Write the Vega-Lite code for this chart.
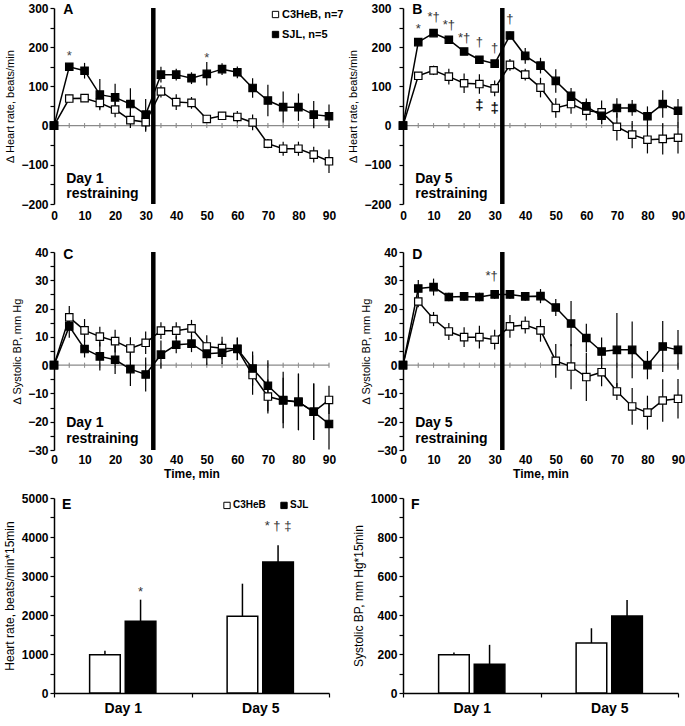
{
"$schema": "https://vega.github.io/schema/vega-lite/v6.json",
"background": "white",
"padding": {"left": 3, "top": 2, "right": 5, "bottom": 5},
"columns": 2,
"bounds": "flush",
"align": "each",
"spacing": {"row": 48, "column": 74},
"resolve": {"scale": {"fill": "independent"}, "legend": {"fill": "independent"}},
"datasets": {
"hr1": [
{"time":0,"group":"C3HeB","mean":0,"sem":0},{"time":5,"group":"C3HeB","mean":69,"sem":10},{"time":10,"group":"C3HeB","mean":70,"sem":8},{"time":15,"group":"C3HeB","mean":58,"sem":15},{"time":20,"group":"C3HeB","mean":41,"sem":20},{"time":25,"group":"C3HeB","mean":14,"sem":20},{"time":30,"group":"C3HeB","mean":9,"sem":25},{"time":35,"group":"C3HeB","mean":87,"sem":15},{"time":40,"group":"C3HeB","mean":60,"sem":20},{"time":45,"group":"C3HeB","mean":58,"sem":15},{"time":50,"group":"C3HeB","mean":17,"sem":10},{"time":55,"group":"C3HeB","mean":25,"sem":10},{"time":60,"group":"C3HeB","mean":22,"sem":15},{"time":65,"group":"C3HeB","mean":8,"sem":20},{"time":70,"group":"C3HeB","mean":-46,"sem":12},{"time":75,"group":"C3HeB","mean":-59,"sem":18},{"time":80,"group":"C3HeB","mean":-59,"sem":18},{"time":85,"group":"C3HeB","mean":-74,"sem":20},{"time":90,"group":"C3HeB","mean":-91,"sem":30},
{"time":0,"group":"SJL","mean":0,"sem":0},{"time":5,"group":"SJL","mean":150,"sem":10},{"time":10,"group":"SJL","mean":140,"sem":20},{"time":15,"group":"SJL","mean":79,"sem":40},{"time":20,"group":"SJL","mean":72,"sem":35},{"time":25,"group":"SJL","mean":55,"sem":40},{"time":30,"group":"SJL","mean":28,"sem":40},{"time":35,"group":"SJL","mean":130,"sem":20},{"time":40,"group":"SJL","mean":130,"sem":15},{"time":45,"group":"SJL","mean":121,"sem":15},{"time":50,"group":"SJL","mean":132,"sem":30},{"time":55,"group":"SJL","mean":144,"sem":15},{"time":60,"group":"SJL","mean":136,"sem":15},{"time":65,"group":"SJL","mean":96,"sem":25},{"time":70,"group":"SJL","mean":64,"sem":40},{"time":75,"group":"SJL","mean":47,"sem":40},{"time":80,"group":"SJL","mean":47,"sem":35},{"time":85,"group":"SJL","mean":28,"sem":35},{"time":90,"group":"SJL","mean":24,"sem":30}
],
"hr5": [
{"time":0,"group":"C3HeB","mean":0,"sem":0},{"time":5,"group":"C3HeB","mean":127,"sem":10},{"time":10,"group":"C3HeB","mean":141,"sem":12},{"time":15,"group":"C3HeB","mean":125,"sem":20},{"time":20,"group":"C3HeB","mean":108,"sem":25},{"time":25,"group":"C3HeB","mean":106,"sem":25},{"time":30,"group":"C3HeB","mean":95,"sem":20},{"time":35,"group":"C3HeB","mean":155,"sem":15},{"time":40,"group":"C3HeB","mean":130,"sem":15},{"time":45,"group":"C3HeB","mean":97,"sem":25},{"time":50,"group":"C3HeB","mean":45,"sem":25},{"time":55,"group":"C3HeB","mean":55,"sem":25},{"time":60,"group":"C3HeB","mean":38,"sem":25},{"time":65,"group":"C3HeB","mean":34,"sem":30},{"time":70,"group":"C3HeB","mean":-3,"sem":35},{"time":75,"group":"C3HeB","mean":-23,"sem":35},{"time":80,"group":"C3HeB","mean":-36,"sem":35},{"time":85,"group":"C3HeB","mean":-34,"sem":40},{"time":90,"group":"C3HeB","mean":-31,"sem":40},
{"time":0,"group":"SJL","mean":0,"sem":0},{"time":5,"group":"SJL","mean":213,"sem":8},{"time":10,"group":"SJL","mean":236,"sem":8},{"time":15,"group":"SJL","mean":219,"sem":8},{"time":20,"group":"SJL","mean":189,"sem":8},{"time":25,"group":"SJL","mean":168,"sem":8},{"time":30,"group":"SJL","mean":158,"sem":8},{"time":35,"group":"SJL","mean":230,"sem":10},{"time":40,"group":"SJL","mean":178,"sem":20},{"time":45,"group":"SJL","mean":153,"sem":20},{"time":50,"group":"SJL","mean":114,"sem":30},{"time":55,"group":"SJL","mean":76,"sem":20},{"time":60,"group":"SJL","mean":49,"sem":20},{"time":65,"group":"SJL","mean":25,"sem":20},{"time":70,"group":"SJL","mean":45,"sem":25},{"time":75,"group":"SJL","mean":45,"sem":20},{"time":80,"group":"SJL","mean":24,"sem":25},{"time":85,"group":"SJL","mean":55,"sem":35},{"time":90,"group":"SJL","mean":38,"sem":30}
],
"bp1": [
{"time":0,"group":"C3HeB","mean":0,"sem":0},{"time":5,"group":"C3HeB","mean":16.9,"sem":4},{"time":10,"group":"C3HeB","mean":12.3,"sem":4},{"time":15,"group":"C3HeB","mean":10.1,"sem":3.5},{"time":20,"group":"C3HeB","mean":8.5,"sem":4},{"time":25,"group":"C3HeB","mean":5.9,"sem":4},{"time":30,"group":"C3HeB","mean":7.9,"sem":4},{"time":35,"group":"C3HeB","mean":12.2,"sem":3},{"time":40,"group":"C3HeB","mean":12.2,"sem":3},{"time":45,"group":"C3HeB","mean":13,"sem":3},{"time":50,"group":"C3HeB","mean":6.6,"sem":4},{"time":55,"group":"C3HeB","mean":6,"sem":4},{"time":60,"group":"C3HeB","mean":5.7,"sem":4},{"time":65,"group":"C3HeB","mean":-3.5,"sem":7},{"time":70,"group":"C3HeB","mean":-11.1,"sem":6},{"time":75,"group":"C3HeB","mean":-12.5,"sem":8},{"time":80,"group":"C3HeB","mean":-13,"sem":10},{"time":85,"group":"C3HeB","mean":-16.5,"sem":10},{"time":90,"group":"C3HeB","mean":-12.3,"sem":5},
{"time":0,"group":"SJL","mean":0,"sem":0},{"time":5,"group":"SJL","mean":13.7,"sem":4},{"time":10,"group":"SJL","mean":5.7,"sem":3},{"time":15,"group":"SJL","mean":3.1,"sem":5},{"time":20,"group":"SJL","mean":1.9,"sem":5},{"time":25,"group":"SJL","mean":-1.4,"sem":6},{"time":30,"group":"SJL","mean":-3.3,"sem":6},{"time":35,"group":"SJL","mean":3.7,"sem":5},{"time":40,"group":"SJL","mean":7.2,"sem":3},{"time":45,"group":"SJL","mean":7.6,"sem":3},{"time":50,"group":"SJL","mean":4,"sem":4},{"time":55,"group":"SJL","mean":4.4,"sem":4},{"time":60,"group":"SJL","mean":5.8,"sem":4},{"time":65,"group":"SJL","mean":-1.2,"sem":6},{"time":70,"group":"SJL","mean":-7.3,"sem":9},{"time":75,"group":"SJL","mean":-12.3,"sem":10},{"time":80,"group":"SJL","mean":-13,"sem":10},{"time":85,"group":"SJL","mean":-16.5,"sem":10},{"time":90,"group":"SJL","mean":-20.8,"sem":9}
],
"bp5": [
{"time":0,"group":"C3HeB","mean":0,"sem":0},{"time":5,"group":"C3HeB","mean":22.5,"sem":2},{"time":10,"group":"C3HeB","mean":16.3,"sem":2.5},{"time":15,"group":"C3HeB","mean":11.9,"sem":3},{"time":20,"group":"C3HeB","mean":9.9,"sem":3.5},{"time":25,"group":"C3HeB","mean":9.9,"sem":4},{"time":30,"group":"C3HeB","mean":9,"sem":3.5},{"time":35,"group":"C3HeB","mean":13.7,"sem":4},{"time":40,"group":"C3HeB","mean":14.2,"sem":3},{"time":45,"group":"C3HeB","mean":12.3,"sem":4},{"time":50,"group":"C3HeB","mean":1.5,"sem":6},{"time":55,"group":"C3HeB","mean":-0.5,"sem":8},{"time":60,"group":"C3HeB","mean":-4.2,"sem":8.5},{"time":65,"group":"C3HeB","mean":-2.5,"sem":5},{"time":70,"group":"C3HeB","mean":-9.3,"sem":3},{"time":75,"group":"C3HeB","mean":-14.6,"sem":6.5},{"time":80,"group":"C3HeB","mean":-16.8,"sem":6},{"time":85,"group":"C3HeB","mean":-12.5,"sem":7.5},{"time":90,"group":"C3HeB","mean":-11.9,"sem":7},
{"time":0,"group":"SJL","mean":0,"sem":0},{"time":5,"group":"SJL","mean":27.1,"sem":3},{"time":10,"group":"SJL","mean":27.6,"sem":3},{"time":15,"group":"SJL","mean":24.1,"sem":1.5},{"time":20,"group":"SJL","mean":24.3,"sem":1.5},{"time":25,"group":"SJL","mean":24.1,"sem":1.5},{"time":30,"group":"SJL","mean":25,"sem":1.5},{"time":35,"group":"SJL","mean":25,"sem":1.5},{"time":40,"group":"SJL","mean":24.3,"sem":1.5},{"time":45,"group":"SJL","mean":24.4,"sem":2.5},{"time":50,"group":"SJL","mean":20.4,"sem":3},{"time":55,"group":"SJL","mean":14.7,"sem":8},{"time":60,"group":"SJL","mean":9.6,"sem":5},{"time":65,"group":"SJL","mean":4.8,"sem":5},{"time":70,"group":"SJL","mean":5.4,"sem":13},{"time":75,"group":"SJL","mean":5.4,"sem":10},{"time":80,"group":"SJL","mean":0,"sem":5},{"time":85,"group":"SJL","mean":6.6,"sem":9},{"time":90,"group":"SJL","mean":5.4,"sem":7}
],
"aucHR": [
{"day":"Day 1","group":"C3HeB","value":983,"upper":1085},{"day":"Day 1","group":"SJL","value":1838,"upper":2393},{"day":"Day 5","group":"C3HeB","value":1966,"upper":2803},{"day":"Day 5","group":"SJL","value":3359,"upper":3786}
],
"aucBP": [
{"day":"Day 1","group":"C3HeB","value":196,"upper":208},{"day":"Day 1","group":"SJL","value":148,"upper":247},{"day":"Day 5","group":"C3HeB","value":256,"upper":332},{"day":"Day 5","group":"SJL","value":395,"upper":477}
]
},
"concat": [
{
"width": 275, "height": 196,
"data": {"name": "hr1"},
"layer": [
{"mark": {"type": "rule", "color": "#8a8a8a", "strokeWidth": 1.2}, "data": {"values": [{}]},
 "encoding": {"y": {"datum": 0, "type": "quantitative", "scale": {"domain": [-200, 300], "nice": false, "zero": false}, "axis": {"values": [-200,-150,-100,-50,0,50,100,150,200,250,300], "labelExpr": "datum.value % 100 === 0 ? datum.label : ''", "labelOverlap": false, "domainWidth": 1.5, "tickSize": 4, "tickWidth": 1.2, "labelPadding": 2, "labelFontSize": 12, "labelFontWeight": "bold", "title": "∆ Heart rate, beats/min", "titleFontSize": 11, "titleFontWeight": "normal", "titlePadding": 5}}}},
{"mark": {"type": "tick", "orient": "vertical", "size": 5, "thickness": 1, "color": "#8a8a8a"},
 "encoding": {
  "x": {"field": "time", "type": "quantitative", "scale": {"domain": [0, 90], "nice": false}, "axis": {"values": [0,10,20,30,40,50,60,70,80,90], "domain": false, "ticks": false, "tickSize": 0, "labelPadding": 6, "labelFontSize": 12, "labelFontWeight": "bold", "labelFlush": false, "labelOverlap": false, "title": null}},
  "y": {"datum": 0, "type": "quantitative", "scale": {"domain": [-200, 300], "nice": false, "zero": false}, "axis": {"values": [-200,-150,-100,-50,0,50,100,150,200,250,300], "labelExpr": "datum.value % 100 === 0 ? datum.label : ''", "labelOverlap": false, "domainWidth": 1.5, "tickSize": 4, "tickWidth": 1.2, "labelPadding": 2, "labelFontSize": 12, "labelFontWeight": "bold", "title": "∆ Heart rate, beats/min", "titleFontSize": 11, "titleFontWeight": "normal", "titlePadding": 5}}}},
{"mark": {"type": "errorbar", "color": "black", "thickness": 1.2},
 "encoding": {
  "x": {"field": "time", "type": "quantitative", "scale": {"domain": [0, 90], "nice": false}, "axis": {"values": [0,10,20,30,40,50,60,70,80,90], "domain": false, "ticks": false, "tickSize": 0, "labelPadding": 6, "labelFontSize": 12, "labelFontWeight": "bold", "labelFlush": false, "labelOverlap": false, "title": null}},
  "y": {"field": "mean", "type": "quantitative", "scale": {"domain": [-200, 300], "nice": false, "zero": false}, "axis": {"values": [-200,-150,-100,-50,0,50,100,150,200,250,300], "labelExpr": "datum.value % 100 === 0 ? datum.label : ''", "labelOverlap": false, "domainWidth": 1.5, "tickSize": 4, "tickWidth": 1.2, "labelPadding": 2, "labelFontSize": 12, "labelFontWeight": "bold", "title": "∆ Heart rate, beats/min", "titleFontSize": 11, "titleFontWeight": "normal", "titlePadding": 5}},
  "yError": {"field": "sem"}}},
{"mark": {"type": "line", "color": "black", "strokeWidth": 1.5},
 "encoding": {
  "x": {"field": "time", "type": "quantitative", "scale": {"domain": [0, 90], "nice": false}, "axis": {"values": [0,10,20,30,40,50,60,70,80,90], "domain": false, "ticks": false, "tickSize": 0, "labelPadding": 6, "labelFontSize": 12, "labelFontWeight": "bold", "labelFlush": false, "labelOverlap": false, "title": null}},
  "y": {"field": "mean", "type": "quantitative", "scale": {"domain": [-200, 300], "nice": false, "zero": false}, "axis": {"values": [-200,-150,-100,-50,0,50,100,150,200,250,300], "labelExpr": "datum.value % 100 === 0 ? datum.label : ''", "labelOverlap": false, "domainWidth": 1.5, "tickSize": 4, "tickWidth": 1.2, "labelPadding": 2, "labelFontSize": 12, "labelFontWeight": "bold", "title": "∆ Heart rate, beats/min", "titleFontSize": 11, "titleFontWeight": "normal", "titlePadding": 5}},
  "detail": {"field": "group"}}},
{"mark": {"type": "point", "shape": "square", "size": 55, "filled": true, "stroke": "black", "strokeWidth": 1.2, "opacity": 1},
 "encoding": {
  "x": {"field": "time", "type": "quantitative", "scale": {"domain": [0, 90], "nice": false}, "axis": {"values": [0,10,20,30,40,50,60,70,80,90], "domain": false, "ticks": false, "tickSize": 0, "labelPadding": 6, "labelFontSize": 12, "labelFontWeight": "bold", "labelFlush": false, "labelOverlap": false, "title": null}},
  "y": {"field": "mean", "type": "quantitative", "scale": {"domain": [-200, 300], "nice": false, "zero": false}, "axis": {"values": [-200,-150,-100,-50,0,50,100,150,200,250,300], "labelExpr": "datum.value % 100 === 0 ? datum.label : ''", "labelOverlap": false, "domainWidth": 1.5, "tickSize": 4, "tickWidth": 1.2, "labelPadding": 2, "labelFontSize": 12, "labelFontWeight": "bold", "title": "∆ Heart rate, beats/min", "titleFontSize": 11, "titleFontWeight": "normal", "titlePadding": 5}},
  "fill": {"field": "group", "type": "nominal", "scale": {"domain": ["C3HeB", "SJL"], "range": ["white", "black"]},
   "legend": {"orient": "none", "legendX": 216, "legendY": 1, "title": null, "symbolType": "square", "symbolSize": 40, "symbolStrokeColor": "black", "symbolStrokeWidth": 1, "labelFontSize": 11, "labelFontWeight": "bold", "labelOffset": 1, "rowPadding": 8, "labelExpr": "datum.label === 'C3HeB' ? 'C3HeB, n=7' : 'SJL, n=5'"}}}},
{"mark": {"type": "rule", "color": "black", "strokeWidth": 4.5}, "data": {"values": [{}]},
 "encoding": {"x": {"datum": 32.5, "type": "quantitative", "scale": {"domain": [0, 90], "nice": false}, "axis": {"values": [0,10,20,30,40,50,60,70,80,90], "domain": false, "ticks": false, "tickSize": 0, "labelPadding": 6, "labelFontSize": 12, "labelFontWeight": "bold", "labelFlush": false, "labelOverlap": false, "title": null}}}},
{"mark": {"type": "text", "fontSize": 13, "color": "#444", "baseline": "middle", "align": "center"},
 "data": {"values": [{"time": 5, "mean": 177, "label": "*"}, {"time": 50, "mean": 173, "label": "*"}]},
 "encoding": {
  "x": {"field": "time", "type": "quantitative", "scale": {"domain": [0, 90], "nice": false}, "axis": {"values": [0,10,20,30,40,50,60,70,80,90], "domain": false, "ticks": false, "tickSize": 0, "labelPadding": 6, "labelFontSize": 12, "labelFontWeight": "bold", "labelFlush": false, "labelOverlap": false, "title": null}},
  "y": {"field": "mean", "type": "quantitative", "scale": {"domain": [-200, 300], "nice": false, "zero": false}, "axis": {"values": [-200,-150,-100,-50,0,50,100,150,200,250,300], "labelExpr": "datum.value % 100 === 0 ? datum.label : ''", "labelOverlap": false, "domainWidth": 1.5, "tickSize": 4, "tickWidth": 1.2, "labelPadding": 2, "labelFontSize": 12, "labelFontWeight": "bold", "title": "∆ Heart rate, beats/min", "titleFontSize": 11, "titleFontWeight": "normal", "titlePadding": 5}},
  "text": {"field": "label"}}},
{"mark": {"type": "text", "fontSize": 14, "fontWeight": "bold", "align": "left", "baseline": "alphabetic", "lineHeight": 15},
 "data": {"values": [{"time": 3, "mean": 285, "label": "A"}, {"time": 4, "mean": -146, "label": ["Day 1", "restraining"]}]},
 "encoding": {
  "x": {"field": "time", "type": "quantitative", "scale": {"domain": [0, 90], "nice": false}, "axis": {"values": [0,10,20,30,40,50,60,70,80,90], "domain": false, "ticks": false, "tickSize": 0, "labelPadding": 6, "labelFontSize": 12, "labelFontWeight": "bold", "labelFlush": false, "labelOverlap": false, "title": null}},
  "y": {"field": "mean", "type": "quantitative", "scale": {"domain": [-200, 300], "nice": false, "zero": false}, "axis": {"values": [-200,-150,-100,-50,0,50,100,150,200,250,300], "labelExpr": "datum.value % 100 === 0 ? datum.label : ''", "labelOverlap": false, "domainWidth": 1.5, "tickSize": 4, "tickWidth": 1.2, "labelPadding": 2, "labelFontSize": 12, "labelFontWeight": "bold", "title": "∆ Heart rate, beats/min", "titleFontSize": 11, "titleFontWeight": "normal", "titlePadding": 5}},
  "text": {"field": "label"}}}
]
},
{
"width": 275, "height": 196,
"data": {"name": "hr5"},
"layer": [
{"mark": {"type": "rule", "color": "#8a8a8a", "strokeWidth": 1.2}, "data": {"values": [{}]},
 "encoding": {"y": {"datum": 0, "type": "quantitative", "scale": {"domain": [-200, 300], "nice": false, "zero": false}, "axis": {"values": [-200,-150,-100,-50,0,50,100,150,200,250,300], "labelExpr": "datum.value % 100 === 0 ? datum.label : ''", "labelOverlap": false, "domainWidth": 1.5, "tickSize": 4, "tickWidth": 1.2, "labelPadding": 8, "labelFontSize": 12, "labelFontWeight": "bold", "title": "∆ Heart rate, beats/min", "titleFontSize": 11, "titleFontWeight": "normal", "titlePadding": 5}}}},
{"mark": {"type": "tick", "orient": "vertical", "size": 5, "thickness": 1, "color": "#8a8a8a"},
 "encoding": {
  "x": {"field": "time", "type": "quantitative", "scale": {"domain": [0, 90], "nice": false}, "axis": {"values": [0,10,20,30,40,50,60,70,80,90], "domain": false, "ticks": false, "tickSize": 0, "labelPadding": 6, "labelFontSize": 12, "labelFontWeight": "bold", "labelFlush": false, "labelOverlap": false, "title": null}},
  "y": {"datum": 0, "type": "quantitative", "scale": {"domain": [-200, 300], "nice": false, "zero": false}, "axis": {"values": [-200,-150,-100,-50,0,50,100,150,200,250,300], "labelExpr": "datum.value % 100 === 0 ? datum.label : ''", "labelOverlap": false, "domainWidth": 1.5, "tickSize": 4, "tickWidth": 1.2, "labelPadding": 8, "labelFontSize": 12, "labelFontWeight": "bold", "title": "∆ Heart rate, beats/min", "titleFontSize": 11, "titleFontWeight": "normal", "titlePadding": 5}}}},
{"mark": {"type": "errorbar", "color": "black", "thickness": 1.2},
 "encoding": {
  "x": {"field": "time", "type": "quantitative", "scale": {"domain": [0, 90], "nice": false}, "axis": {"values": [0,10,20,30,40,50,60,70,80,90], "domain": false, "ticks": false, "tickSize": 0, "labelPadding": 6, "labelFontSize": 12, "labelFontWeight": "bold", "labelFlush": false, "labelOverlap": false, "title": null}},
  "y": {"field": "mean", "type": "quantitative", "scale": {"domain": [-200, 300], "nice": false, "zero": false}, "axis": {"values": [-200,-150,-100,-50,0,50,100,150,200,250,300], "labelExpr": "datum.value % 100 === 0 ? datum.label : ''", "labelOverlap": false, "domainWidth": 1.5, "tickSize": 4, "tickWidth": 1.2, "labelPadding": 8, "labelFontSize": 12, "labelFontWeight": "bold", "title": "∆ Heart rate, beats/min", "titleFontSize": 11, "titleFontWeight": "normal", "titlePadding": 5}},
  "yError": {"field": "sem"}}},
{"mark": {"type": "line", "color": "black", "strokeWidth": 1.5},
 "encoding": {
  "x": {"field": "time", "type": "quantitative", "scale": {"domain": [0, 90], "nice": false}, "axis": {"values": [0,10,20,30,40,50,60,70,80,90], "domain": false, "ticks": false, "tickSize": 0, "labelPadding": 6, "labelFontSize": 12, "labelFontWeight": "bold", "labelFlush": false, "labelOverlap": false, "title": null}},
  "y": {"field": "mean", "type": "quantitative", "scale": {"domain": [-200, 300], "nice": false, "zero": false}, "axis": {"values": [-200,-150,-100,-50,0,50,100,150,200,250,300], "labelExpr": "datum.value % 100 === 0 ? datum.label : ''", "labelOverlap": false, "domainWidth": 1.5, "tickSize": 4, "tickWidth": 1.2, "labelPadding": 8, "labelFontSize": 12, "labelFontWeight": "bold", "title": "∆ Heart rate, beats/min", "titleFontSize": 11, "titleFontWeight": "normal", "titlePadding": 5}},
  "detail": {"field": "group"}}},
{"mark": {"type": "point", "shape": "square", "size": 55, "filled": true, "stroke": "black", "strokeWidth": 1.2, "opacity": 1},
 "encoding": {
  "x": {"field": "time", "type": "quantitative", "scale": {"domain": [0, 90], "nice": false}, "axis": {"values": [0,10,20,30,40,50,60,70,80,90], "domain": false, "ticks": false, "tickSize": 0, "labelPadding": 6, "labelFontSize": 12, "labelFontWeight": "bold", "labelFlush": false, "labelOverlap": false, "title": null}},
  "y": {"field": "mean", "type": "quantitative", "scale": {"domain": [-200, 300], "nice": false, "zero": false}, "axis": {"values": [-200,-150,-100,-50,0,50,100,150,200,250,300], "labelExpr": "datum.value % 100 === 0 ? datum.label : ''", "labelOverlap": false, "domainWidth": 1.5, "tickSize": 4, "tickWidth": 1.2, "labelPadding": 8, "labelFontSize": 12, "labelFontWeight": "bold", "title": "∆ Heart rate, beats/min", "titleFontSize": 11, "titleFontWeight": "normal", "titlePadding": 5}},
  "fill": {"field": "group", "type": "nominal", "scale": {"domain": ["C3HeB", "SJL"], "range": ["white", "black"]}, "legend": null}}},
{"mark": {"type": "rule", "color": "black", "strokeWidth": 4.5}, "data": {"values": [{}]},
 "encoding": {"x": {"datum": 32.5, "type": "quantitative", "scale": {"domain": [0, 90], "nice": false}, "axis": {"values": [0,10,20,30,40,50,60,70,80,90], "domain": false, "ticks": false, "tickSize": 0, "labelPadding": 6, "labelFontSize": 12, "labelFontWeight": "bold", "labelFlush": false, "labelOverlap": false, "title": null}}}},
{"mark": {"type": "text", "fontSize": 13, "color": "#333", "baseline": "middle", "align": "center"},
 "data": {"values": [{"time": 5, "mean": 246, "label": "*"}, {"time": 10, "mean": 278, "label": "*†"}, {"time": 15, "mean": 257, "label": "*†"}, {"time": 20, "mean": 223, "label": "*†"}, {"time": 25, "mean": 212, "label": "†"}, {"time": 30, "mean": 197, "label": "†"}, {"time": 35, "mean": 272, "label": "†"}]},
 "encoding": {
  "x": {"field": "time", "type": "quantitative", "scale": {"domain": [0, 90], "nice": false}, "axis": {"values": [0,10,20,30,40,50,60,70,80,90], "domain": false, "ticks": false, "tickSize": 0, "labelPadding": 6, "labelFontSize": 12, "labelFontWeight": "bold", "labelFlush": false, "labelOverlap": false, "title": null}},
  "y": {"field": "mean", "type": "quantitative", "scale": {"domain": [-200, 300], "nice": false, "zero": false}, "axis": {"values": [-200,-150,-100,-50,0,50,100,150,200,250,300], "labelExpr": "datum.value % 100 === 0 ? datum.label : ''", "labelOverlap": false, "domainWidth": 1.5, "tickSize": 4, "tickWidth": 1.2, "labelPadding": 8, "labelFontSize": 12, "labelFontWeight": "bold", "title": "∆ Heart rate, beats/min", "titleFontSize": 11, "titleFontWeight": "normal", "titlePadding": 5}},
  "text": {"field": "label"}}},
{"mark": {"type": "text", "fontSize": 15, "fontWeight": "bold", "color": "#111", "baseline": "middle", "align": "center"},
 "data": {"values": [{"time": 25, "mean": 53, "label": "‡"}, {"time": 30, "mean": 45, "label": "‡"}]},
 "encoding": {
  "x": {"field": "time", "type": "quantitative", "scale": {"domain": [0, 90], "nice": false}, "axis": {"values": [0,10,20,30,40,50,60,70,80,90], "domain": false, "ticks": false, "tickSize": 0, "labelPadding": 6, "labelFontSize": 12, "labelFontWeight": "bold", "labelFlush": false, "labelOverlap": false, "title": null}},
  "y": {"field": "mean", "type": "quantitative", "scale": {"domain": [-200, 300], "nice": false, "zero": false}, "axis": {"values": [-200,-150,-100,-50,0,50,100,150,200,250,300], "labelExpr": "datum.value % 100 === 0 ? datum.label : ''", "labelOverlap": false, "domainWidth": 1.5, "tickSize": 4, "tickWidth": 1.2, "labelPadding": 8, "labelFontSize": 12, "labelFontWeight": "bold", "title": "∆ Heart rate, beats/min", "titleFontSize": 11, "titleFontWeight": "normal", "titlePadding": 5}},
  "text": {"field": "label"}}},
{"mark": {"type": "text", "fontSize": 14, "fontWeight": "bold", "align": "left", "baseline": "alphabetic", "lineHeight": 15},
 "data": {"values": [{"time": 3, "mean": 285, "label": "B"}, {"time": 4, "mean": -146, "label": ["Day 5", "restraining"]}]},
 "encoding": {
  "x": {"field": "time", "type": "quantitative", "scale": {"domain": [0, 90], "nice": false}, "axis": {"values": [0,10,20,30,40,50,60,70,80,90], "domain": false, "ticks": false, "tickSize": 0, "labelPadding": 6, "labelFontSize": 12, "labelFontWeight": "bold", "labelFlush": false, "labelOverlap": false, "title": null}},
  "y": {"field": "mean", "type": "quantitative", "scale": {"domain": [-200, 300], "nice": false, "zero": false}, "axis": {"values": [-200,-150,-100,-50,0,50,100,150,200,250,300], "labelExpr": "datum.value % 100 === 0 ? datum.label : ''", "labelOverlap": false, "domainWidth": 1.5, "tickSize": 4, "tickWidth": 1.2, "labelPadding": 8, "labelFontSize": 12, "labelFontWeight": "bold", "title": "∆ Heart rate, beats/min", "titleFontSize": 11, "titleFontWeight": "normal", "titlePadding": 5}},
  "text": {"field": "label"}}}
]
},
{
"width": 275, "height": 198,
"data": {"name": "bp1"},
"layer": [
{"mark": {"type": "rule", "color": "#8a8a8a", "strokeWidth": 1.2}, "data": {"values": [{}]},
 "encoding": {"y": {"datum": 0, "type": "quantitative", "scale": {"domain": [-30, 40], "nice": false, "zero": false}, "axis": {"values": [-30,-25,-20,-15,-10,-5,0,5,10,15,20,25,30,35,40], "labelExpr": "datum.value % 10 === 0 ? datum.label : ''", "labelOverlap": false, "domainWidth": 1.5, "tickSize": 4, "tickWidth": 1.2, "labelPadding": 2, "labelFontSize": 12, "labelFontWeight": "bold", "title": "∆ Systolic BP, mm Hg", "titleFontSize": 11, "titleFontWeight": "normal", "titlePadding": 5}}}},
{"mark": {"type": "tick", "orient": "vertical", "size": 5, "thickness": 1, "color": "#8a8a8a"},
 "encoding": {
  "x": {"field": "time", "type": "quantitative", "scale": {"domain": [0, 90], "nice": false}, "axis": {"values": [0,10,20,30,40,50,60,70,80,90], "domain": false, "ticks": false, "tickSize": 0, "labelPadding": 4, "labelFontSize": 12, "labelFontWeight": "bold", "labelFlush": false, "labelOverlap": false, "title": "Time, min", "titleFontSize": 12, "titleFontWeight": "bold", "titlePadding": 3}},
  "y": {"datum": 0, "type": "quantitative", "scale": {"domain": [-30, 40], "nice": false, "zero": false}, "axis": {"values": [-30,-25,-20,-15,-10,-5,0,5,10,15,20,25,30,35,40], "labelExpr": "datum.value % 10 === 0 ? datum.label : ''", "labelOverlap": false, "domainWidth": 1.5, "tickSize": 4, "tickWidth": 1.2, "labelPadding": 2, "labelFontSize": 12, "labelFontWeight": "bold", "title": "∆ Systolic BP, mm Hg", "titleFontSize": 11, "titleFontWeight": "normal", "titlePadding": 5}}}},
{"mark": {"type": "errorbar", "color": "black", "thickness": 1.2},
 "encoding": {
  "x": {"field": "time", "type": "quantitative", "scale": {"domain": [0, 90], "nice": false}, "axis": {"values": [0,10,20,30,40,50,60,70,80,90], "domain": false, "ticks": false, "tickSize": 0, "labelPadding": 4, "labelFontSize": 12, "labelFontWeight": "bold", "labelFlush": false, "labelOverlap": false, "title": "Time, min", "titleFontSize": 12, "titleFontWeight": "bold", "titlePadding": 3}},
  "y": {"field": "mean", "type": "quantitative", "scale": {"domain": [-30, 40], "nice": false, "zero": false}, "axis": {"values": [-30,-25,-20,-15,-10,-5,0,5,10,15,20,25,30,35,40], "labelExpr": "datum.value % 10 === 0 ? datum.label : ''", "labelOverlap": false, "domainWidth": 1.5, "tickSize": 4, "tickWidth": 1.2, "labelPadding": 2, "labelFontSize": 12, "labelFontWeight": "bold", "title": "∆ Systolic BP, mm Hg", "titleFontSize": 11, "titleFontWeight": "normal", "titlePadding": 5}},
  "yError": {"field": "sem"}}},
{"mark": {"type": "line", "color": "black", "strokeWidth": 1.5},
 "encoding": {
  "x": {"field": "time", "type": "quantitative", "scale": {"domain": [0, 90], "nice": false}, "axis": {"values": [0,10,20,30,40,50,60,70,80,90], "domain": false, "ticks": false, "tickSize": 0, "labelPadding": 4, "labelFontSize": 12, "labelFontWeight": "bold", "labelFlush": false, "labelOverlap": false, "title": "Time, min", "titleFontSize": 12, "titleFontWeight": "bold", "titlePadding": 3}},
  "y": {"field": "mean", "type": "quantitative", "scale": {"domain": [-30, 40], "nice": false, "zero": false}, "axis": {"values": [-30,-25,-20,-15,-10,-5,0,5,10,15,20,25,30,35,40], "labelExpr": "datum.value % 10 === 0 ? datum.label : ''", "labelOverlap": false, "domainWidth": 1.5, "tickSize": 4, "tickWidth": 1.2, "labelPadding": 2, "labelFontSize": 12, "labelFontWeight": "bold", "title": "∆ Systolic BP, mm Hg", "titleFontSize": 11, "titleFontWeight": "normal", "titlePadding": 5}},
  "detail": {"field": "group"}}},
{"mark": {"type": "point", "shape": "square", "size": 55, "filled": true, "stroke": "black", "strokeWidth": 1.2, "opacity": 1},
 "encoding": {
  "x": {"field": "time", "type": "quantitative", "scale": {"domain": [0, 90], "nice": false}, "axis": {"values": [0,10,20,30,40,50,60,70,80,90], "domain": false, "ticks": false, "tickSize": 0, "labelPadding": 4, "labelFontSize": 12, "labelFontWeight": "bold", "labelFlush": false, "labelOverlap": false, "title": "Time, min", "titleFontSize": 12, "titleFontWeight": "bold", "titlePadding": 3}},
  "y": {"field": "mean", "type": "quantitative", "scale": {"domain": [-30, 40], "nice": false, "zero": false}, "axis": {"values": [-30,-25,-20,-15,-10,-5,0,5,10,15,20,25,30,35,40], "labelExpr": "datum.value % 10 === 0 ? datum.label : ''", "labelOverlap": false, "domainWidth": 1.5, "tickSize": 4, "tickWidth": 1.2, "labelPadding": 2, "labelFontSize": 12, "labelFontWeight": "bold", "title": "∆ Systolic BP, mm Hg", "titleFontSize": 11, "titleFontWeight": "normal", "titlePadding": 5}},
  "fill": {"field": "group", "type": "nominal", "scale": {"domain": ["C3HeB", "SJL"], "range": ["white", "black"]}, "legend": null}}},
{"mark": {"type": "rule", "color": "black", "strokeWidth": 4.5}, "data": {"values": [{}]},
 "encoding": {"x": {"datum": 32.5, "type": "quantitative", "scale": {"domain": [0, 90], "nice": false}, "axis": {"values": [0,10,20,30,40,50,60,70,80,90], "domain": false, "ticks": false, "tickSize": 0, "labelPadding": 4, "labelFontSize": 12, "labelFontWeight": "bold", "labelFlush": false, "labelOverlap": false, "title": "Time, min", "titleFontSize": 12, "titleFontWeight": "bold", "titlePadding": 3}}}},
{"mark": {"type": "text", "fontSize": 14, "fontWeight": "bold", "align": "left", "baseline": "alphabetic", "lineHeight": 16},
 "data": {"values": [{"time": 3, "mean": 37.5, "label": "C"}, {"time": 4, "mean": -22, "label": ["Day 1", "restraining"]}]},
 "encoding": {
  "x": {"field": "time", "type": "quantitative", "scale": {"domain": [0, 90], "nice": false}, "axis": {"values": [0,10,20,30,40,50,60,70,80,90], "domain": false, "ticks": false, "tickSize": 0, "labelPadding": 4, "labelFontSize": 12, "labelFontWeight": "bold", "labelFlush": false, "labelOverlap": false, "title": "Time, min", "titleFontSize": 12, "titleFontWeight": "bold", "titlePadding": 3}},
  "y": {"field": "mean", "type": "quantitative", "scale": {"domain": [-30, 40], "nice": false, "zero": false}, "axis": {"values": [-30,-25,-20,-15,-10,-5,0,5,10,15,20,25,30,35,40], "labelExpr": "datum.value % 10 === 0 ? datum.label : ''", "labelOverlap": false, "domainWidth": 1.5, "tickSize": 4, "tickWidth": 1.2, "labelPadding": 2, "labelFontSize": 12, "labelFontWeight": "bold", "title": "∆ Systolic BP, mm Hg", "titleFontSize": 11, "titleFontWeight": "normal", "titlePadding": 5}},
  "text": {"field": "label"}}}
]
},
{
"width": 275, "height": 198,
"data": {"name": "bp5"},
"layer": [
{"mark": {"type": "rule", "color": "#8a8a8a", "strokeWidth": 1.2}, "data": {"values": [{}]},
 "encoding": {"y": {"datum": 0, "type": "quantitative", "scale": {"domain": [-30, 40], "nice": false, "zero": false}, "axis": {"values": [-30,-25,-20,-15,-10,-5,0,5,10,15,20,25,30,35,40], "labelExpr": "datum.value % 10 === 0 ? datum.label : ''", "labelOverlap": false, "domainWidth": 1.5, "tickSize": 4, "tickWidth": 1.2, "labelPadding": 2, "labelFontSize": 12, "labelFontWeight": "bold", "title": "∆ Systolic BP, mm Hg", "titleFontSize": 11, "titleFontWeight": "normal", "titlePadding": 5}}}},
{"mark": {"type": "tick", "orient": "vertical", "size": 5, "thickness": 1, "color": "#8a8a8a"},
 "encoding": {
  "x": {"field": "time", "type": "quantitative", "scale": {"domain": [0, 90], "nice": false}, "axis": {"values": [0,10,20,30,40,50,60,70,80,90], "domain": false, "ticks": false, "tickSize": 0, "labelPadding": 4, "labelFontSize": 12, "labelFontWeight": "bold", "labelFlush": false, "labelOverlap": false, "title": "Time, min", "titleFontSize": 12, "titleFontWeight": "bold", "titlePadding": 3}},
  "y": {"datum": 0, "type": "quantitative", "scale": {"domain": [-30, 40], "nice": false, "zero": false}, "axis": {"values": [-30,-25,-20,-15,-10,-5,0,5,10,15,20,25,30,35,40], "labelExpr": "datum.value % 10 === 0 ? datum.label : ''", "labelOverlap": false, "domainWidth": 1.5, "tickSize": 4, "tickWidth": 1.2, "labelPadding": 2, "labelFontSize": 12, "labelFontWeight": "bold", "title": "∆ Systolic BP, mm Hg", "titleFontSize": 11, "titleFontWeight": "normal", "titlePadding": 5}}}},
{"mark": {"type": "errorbar", "color": "black", "thickness": 1.2},
 "encoding": {
  "x": {"field": "time", "type": "quantitative", "scale": {"domain": [0, 90], "nice": false}, "axis": {"values": [0,10,20,30,40,50,60,70,80,90], "domain": false, "ticks": false, "tickSize": 0, "labelPadding": 4, "labelFontSize": 12, "labelFontWeight": "bold", "labelFlush": false, "labelOverlap": false, "title": "Time, min", "titleFontSize": 12, "titleFontWeight": "bold", "titlePadding": 3}},
  "y": {"field": "mean", "type": "quantitative", "scale": {"domain": [-30, 40], "nice": false, "zero": false}, "axis": {"values": [-30,-25,-20,-15,-10,-5,0,5,10,15,20,25,30,35,40], "labelExpr": "datum.value % 10 === 0 ? datum.label : ''", "labelOverlap": false, "domainWidth": 1.5, "tickSize": 4, "tickWidth": 1.2, "labelPadding": 2, "labelFontSize": 12, "labelFontWeight": "bold", "title": "∆ Systolic BP, mm Hg", "titleFontSize": 11, "titleFontWeight": "normal", "titlePadding": 5}},
  "yError": {"field": "sem"}}},
{"mark": {"type": "line", "color": "black", "strokeWidth": 1.5},
 "encoding": {
  "x": {"field": "time", "type": "quantitative", "scale": {"domain": [0, 90], "nice": false}, "axis": {"values": [0,10,20,30,40,50,60,70,80,90], "domain": false, "ticks": false, "tickSize": 0, "labelPadding": 4, "labelFontSize": 12, "labelFontWeight": "bold", "labelFlush": false, "labelOverlap": false, "title": "Time, min", "titleFontSize": 12, "titleFontWeight": "bold", "titlePadding": 3}},
  "y": {"field": "mean", "type": "quantitative", "scale": {"domain": [-30, 40], "nice": false, "zero": false}, "axis": {"values": [-30,-25,-20,-15,-10,-5,0,5,10,15,20,25,30,35,40], "labelExpr": "datum.value % 10 === 0 ? datum.label : ''", "labelOverlap": false, "domainWidth": 1.5, "tickSize": 4, "tickWidth": 1.2, "labelPadding": 2, "labelFontSize": 12, "labelFontWeight": "bold", "title": "∆ Systolic BP, mm Hg", "titleFontSize": 11, "titleFontWeight": "normal", "titlePadding": 5}},
  "detail": {"field": "group"}}},
{"mark": {"type": "point", "shape": "square", "size": 55, "filled": true, "stroke": "black", "strokeWidth": 1.2, "opacity": 1},
 "encoding": {
  "x": {"field": "time", "type": "quantitative", "scale": {"domain": [0, 90], "nice": false}, "axis": {"values": [0,10,20,30,40,50,60,70,80,90], "domain": false, "ticks": false, "tickSize": 0, "labelPadding": 4, "labelFontSize": 12, "labelFontWeight": "bold", "labelFlush": false, "labelOverlap": false, "title": "Time, min", "titleFontSize": 12, "titleFontWeight": "bold", "titlePadding": 3}},
  "y": {"field": "mean", "type": "quantitative", "scale": {"domain": [-30, 40], "nice": false, "zero": false}, "axis": {"values": [-30,-25,-20,-15,-10,-5,0,5,10,15,20,25,30,35,40], "labelExpr": "datum.value % 10 === 0 ? datum.label : ''", "labelOverlap": false, "domainWidth": 1.5, "tickSize": 4, "tickWidth": 1.2, "labelPadding": 2, "labelFontSize": 12, "labelFontWeight": "bold", "title": "∆ Systolic BP, mm Hg", "titleFontSize": 11, "titleFontWeight": "normal", "titlePadding": 5}},
  "fill": {"field": "group", "type": "nominal", "scale": {"domain": ["C3HeB", "SJL"], "range": ["white", "black"]}, "legend": null}}},
{"mark": {"type": "rule", "color": "black", "strokeWidth": 4.5}, "data": {"values": [{}]},
 "encoding": {"x": {"datum": 32.5, "type": "quantitative", "scale": {"domain": [0, 90], "nice": false}, "axis": {"values": [0,10,20,30,40,50,60,70,80,90], "domain": false, "ticks": false, "tickSize": 0, "labelPadding": 4, "labelFontSize": 12, "labelFontWeight": "bold", "labelFlush": false, "labelOverlap": false, "title": "Time, min", "titleFontSize": 12, "titleFontWeight": "bold", "titlePadding": 3}}}},
{"mark": {"type": "text", "fontSize": 13, "color": "#333", "baseline": "middle", "align": "center"},
 "data": {"values": [{"time": 29, "mean": 31.4, "label": "*†"}]},
 "encoding": {
  "x": {"field": "time", "type": "quantitative", "scale": {"domain": [0, 90], "nice": false}, "axis": {"values": [0,10,20,30,40,50,60,70,80,90], "domain": false, "ticks": false, "tickSize": 0, "labelPadding": 4, "labelFontSize": 12, "labelFontWeight": "bold", "labelFlush": false, "labelOverlap": false, "title": "Time, min", "titleFontSize": 12, "titleFontWeight": "bold", "titlePadding": 3}},
  "y": {"field": "mean", "type": "quantitative", "scale": {"domain": [-30, 40], "nice": false, "zero": false}, "axis": {"values": [-30,-25,-20,-15,-10,-5,0,5,10,15,20,25,30,35,40], "labelExpr": "datum.value % 10 === 0 ? datum.label : ''", "labelOverlap": false, "domainWidth": 1.5, "tickSize": 4, "tickWidth": 1.2, "labelPadding": 2, "labelFontSize": 12, "labelFontWeight": "bold", "title": "∆ Systolic BP, mm Hg", "titleFontSize": 11, "titleFontWeight": "normal", "titlePadding": 5}},
  "text": {"field": "label"}}},
{"mark": {"type": "text", "fontSize": 14, "fontWeight": "bold", "align": "left", "baseline": "alphabetic", "lineHeight": 16},
 "data": {"values": [{"time": 3, "mean": 37.5, "label": "D"}, {"time": 4, "mean": -22, "label": ["Day 5", "restraining"]}]},
 "encoding": {
  "x": {"field": "time", "type": "quantitative", "scale": {"domain": [0, 90], "nice": false}, "axis": {"values": [0,10,20,30,40,50,60,70,80,90], "domain": false, "ticks": false, "tickSize": 0, "labelPadding": 4, "labelFontSize": 12, "labelFontWeight": "bold", "labelFlush": false, "labelOverlap": false, "title": "Time, min", "titleFontSize": 12, "titleFontWeight": "bold", "titlePadding": 3}},
  "y": {"field": "mean", "type": "quantitative", "scale": {"domain": [-30, 40], "nice": false, "zero": false}, "axis": {"values": [-30,-25,-20,-15,-10,-5,0,5,10,15,20,25,30,35,40], "labelExpr": "datum.value % 10 === 0 ? datum.label : ''", "labelOverlap": false, "domainWidth": 1.5, "tickSize": 4, "tickWidth": 1.2, "labelPadding": 2, "labelFontSize": 12, "labelFontWeight": "bold", "title": "∆ Systolic BP, mm Hg", "titleFontSize": 11, "titleFontWeight": "normal", "titlePadding": 5}},
  "text": {"field": "label"}}}
]
},
{
"width": 275, "height": 195,
"data": {"name": "aucHR"},
"layer": [
{"mark": {"type": "rule", "color": "black", "strokeWidth": 1.5},
 "encoding": {
  "x": {"field": "day", "type": "nominal", "scale": {"paddingInner": 0, "paddingOuter": 0}, "axis": {"title": null, "labelAngle": 0, "labelFontSize": 14, "labelFontWeight": "bold", "domainWidth": 1.5, "tickBand": "extent", "tickSize": 4, "tickWidth": 1.2, "labelPadding": 4}},
  "xOffset": {"field": "group", "type": "nominal", "scale": {"domain": ["C3HeB", "SJL"], "paddingInner": 0.14, "paddingOuter": 1.03}},
  "y": {"field": "value", "type": "quantitative", "scale": {"domain": [0, 5000], "nice": false}, "axis": {"values": [0,500,1000,1500,2000,2500,3000,3500,4000,4500,5000], "format": "d", "labelExpr": "datum.value % 1000 === 0 ? datum.label : ''", "labelOverlap": false, "domainWidth": 1.5, "tickSize": 4, "tickWidth": 1.2, "labelPadding": 2, "labelFontSize": 12, "labelFontWeight": "bold", "title": "Heart rate, beats/min*15min", "titleFontSize": 12, "titleFontWeight": "normal", "titlePadding": 5}},
  "y2": {"field": "upper"}}},
{"mark": {"type": "bar", "stroke": "black", "strokeWidth": 1.5},
 "encoding": {
  "x": {"field": "day", "type": "nominal", "scale": {"paddingInner": 0, "paddingOuter": 0}, "axis": {"title": null, "labelAngle": 0, "labelFontSize": 14, "labelFontWeight": "bold", "domainWidth": 1.5, "tickBand": "extent", "tickSize": 4, "tickWidth": 1.2, "labelPadding": 4}},
  "xOffset": {"field": "group", "type": "nominal", "scale": {"domain": ["C3HeB", "SJL"], "paddingInner": 0.14, "paddingOuter": 1.03}},
  "y": {"field": "value", "type": "quantitative", "scale": {"domain": [0, 5000], "nice": false}, "axis": {"values": [0,500,1000,1500,2000,2500,3000,3500,4000,4500,5000], "format": "d", "labelExpr": "datum.value % 1000 === 0 ? datum.label : ''", "labelOverlap": false, "domainWidth": 1.5, "tickSize": 4, "tickWidth": 1.2, "labelPadding": 2, "labelFontSize": 12, "labelFontWeight": "bold", "title": "Heart rate, beats/min*15min", "titleFontSize": 12, "titleFontWeight": "normal", "titlePadding": 5}},
  "fill": {"field": "group", "type": "nominal", "scale": {"domain": ["C3HeB", "SJL"], "range": ["white", "black"]},
   "legend": {"orient": "none", "direction": "horizontal", "legendX": 168, "legendY": 2, "title": null, "symbolType": "square", "symbolSize": 40, "symbolStrokeColor": "black", "symbolStrokeWidth": 1, "labelFontSize": 10, "labelFontWeight": "bold", "labelOffset": 1, "columnPadding": 12}}}},
{"mark": {"type": "text", "fontSize": 13, "color": "#333", "baseline": "middle", "align": "center"},
 "data": {"values": [{"day": "Day 1", "group": "SJL", "value": 2600, "label": "*"}, {"day": "Day 5", "group": "SJL", "value": 4274, "label": "* † ‡"}]},
 "encoding": {
  "x": {"field": "day", "type": "nominal", "scale": {"paddingInner": 0, "paddingOuter": 0}, "axis": {"title": null, "labelAngle": 0, "labelFontSize": 14, "labelFontWeight": "bold", "domainWidth": 1.5, "tickBand": "extent", "tickSize": 4, "tickWidth": 1.2, "labelPadding": 4}},
  "xOffset": {"field": "group", "type": "nominal", "scale": {"domain": ["C3HeB", "SJL"], "paddingInner": 0.14, "paddingOuter": 1.03}},
  "y": {"field": "value", "type": "quantitative", "scale": {"domain": [0, 5000], "nice": false}, "axis": {"values": [0,500,1000,1500,2000,2500,3000,3500,4000,4500,5000], "format": "d", "labelExpr": "datum.value % 1000 === 0 ? datum.label : ''", "labelOverlap": false, "domainWidth": 1.5, "tickSize": 4, "tickWidth": 1.2, "labelPadding": 2, "labelFontSize": 12, "labelFontWeight": "bold", "title": "Heart rate, beats/min*15min", "titleFontSize": 12, "titleFontWeight": "normal", "titlePadding": 5}},
  "text": {"field": "label"}}},
{"mark": {"type": "text", "fontSize": 14, "fontWeight": "bold", "align": "left", "baseline": "alphabetic", "dx": 8},
 "data": {"values": [{"day": "Day 1", "value": 4720, "label": "E"}]},
 "encoding": {
  "x": {"field": "day", "type": "nominal", "bandPosition": 0, "scale": {"paddingInner": 0, "paddingOuter": 0}, "axis": {"title": null, "labelAngle": 0, "labelFontSize": 14, "labelFontWeight": "bold", "domainWidth": 1.5, "tickBand": "extent", "tickSize": 4, "tickWidth": 1.2, "labelPadding": 4}},
  "y": {"field": "value", "type": "quantitative", "scale": {"domain": [0, 5000], "nice": false}, "axis": {"values": [0,500,1000,1500,2000,2500,3000,3500,4000,4500,5000], "format": "d", "labelExpr": "datum.value % 1000 === 0 ? datum.label : ''", "labelOverlap": false, "domainWidth": 1.5, "tickSize": 4, "tickWidth": 1.2, "labelPadding": 2, "labelFontSize": 12, "labelFontWeight": "bold", "title": "Heart rate, beats/min*15min", "titleFontSize": 12, "titleFontWeight": "normal", "titlePadding": 5}},
  "text": {"field": "label"}}}
]
},
{
"width": 275, "height": 195,
"data": {"name": "aucBP"},
"layer": [
{"mark": {"type": "rule", "color": "black", "strokeWidth": 1.5},
 "encoding": {
  "x": {"field": "day", "type": "nominal", "scale": {"paddingInner": 0, "paddingOuter": 0}, "axis": {"title": null, "labelAngle": 0, "labelFontSize": 14, "labelFontWeight": "bold", "domainWidth": 1.5, "tickBand": "extent", "tickSize": 4, "tickWidth": 1.2, "labelPadding": 4}},
  "xOffset": {"field": "group", "type": "nominal", "scale": {"domain": ["C3HeB", "SJL"], "paddingInner": 0.14, "paddingOuter": 1.03}},
  "y": {"field": "value", "type": "quantitative", "scale": {"domain": [0, 1000], "nice": false}, "axis": {"values": [0,100,200,300,400,500,600,700,800,900,1000], "format": "d", "labelExpr": "datum.value % 200 === 0 ? datum.label : ''", "labelOverlap": false, "domainWidth": 1.5, "tickSize": 4, "tickWidth": 1.2, "labelPadding": 2, "labelFontSize": 12, "labelFontWeight": "bold", "title": "Systolic BP, mm Hg*15min", "titleFontSize": 12, "titleFontWeight": "normal", "titlePadding": 5}},
  "y2": {"field": "upper"}}},
{"mark": {"type": "bar", "stroke": "black", "strokeWidth": 1.5},
 "encoding": {
  "x": {"field": "day", "type": "nominal", "scale": {"paddingInner": 0, "paddingOuter": 0}, "axis": {"title": null, "labelAngle": 0, "labelFontSize": 14, "labelFontWeight": "bold", "domainWidth": 1.5, "tickBand": "extent", "tickSize": 4, "tickWidth": 1.2, "labelPadding": 4}},
  "xOffset": {"field": "group", "type": "nominal", "scale": {"domain": ["C3HeB", "SJL"], "paddingInner": 0.14, "paddingOuter": 1.03}},
  "y": {"field": "value", "type": "quantitative", "scale": {"domain": [0, 1000], "nice": false}, "axis": {"values": [0,100,200,300,400,500,600,700,800,900,1000], "format": "d", "labelExpr": "datum.value % 200 === 0 ? datum.label : ''", "labelOverlap": false, "domainWidth": 1.5, "tickSize": 4, "tickWidth": 1.2, "labelPadding": 2, "labelFontSize": 12, "labelFontWeight": "bold", "title": "Systolic BP, mm Hg*15min", "titleFontSize": 12, "titleFontWeight": "normal", "titlePadding": 5}},
  "fill": {"field": "group", "type": "nominal", "scale": {"domain": ["C3HeB", "SJL"], "range": ["white", "black"]}, "legend": null}}},
{"mark": {"type": "text", "fontSize": 14, "fontWeight": "bold", "align": "left", "baseline": "alphabetic", "dx": 8},
 "data": {"values": [{"day": "Day 1", "value": 944, "label": "F"}]},
 "encoding": {
  "x": {"field": "day", "type": "nominal", "bandPosition": 0, "scale": {"paddingInner": 0, "paddingOuter": 0}, "axis": {"title": null, "labelAngle": 0, "labelFontSize": 14, "labelFontWeight": "bold", "domainWidth": 1.5, "tickBand": "extent", "tickSize": 4, "tickWidth": 1.2, "labelPadding": 4}},
  "y": {"field": "value", "type": "quantitative", "scale": {"domain": [0, 1000], "nice": false}, "axis": {"values": [0,100,200,300,400,500,600,700,800,900,1000], "format": "d", "labelExpr": "datum.value % 200 === 0 ? datum.label : ''", "labelOverlap": false, "domainWidth": 1.5, "tickSize": 4, "tickWidth": 1.2, "labelPadding": 2, "labelFontSize": 12, "labelFontWeight": "bold", "title": "Systolic BP, mm Hg*15min", "titleFontSize": 12, "titleFontWeight": "normal", "titlePadding": 5}},
  "text": {"field": "label"}}}
]
}
],
"config": {
"font": "Liberation Sans",
"view": {"stroke": null},
"legend": {"padding": 0, "labelFont": "Liberation Sans", "labelColor": "black"},
"text": {"font": "Liberation Sans"},
"axis": {"grid": false, "labelOverlap": false, "labelFont": "Liberation Sans", "titleFont": "Liberation Sans", "labelColor": "black", "titleColor": "black", "domainColor": "black", "tickColor": "black"}
}
}
